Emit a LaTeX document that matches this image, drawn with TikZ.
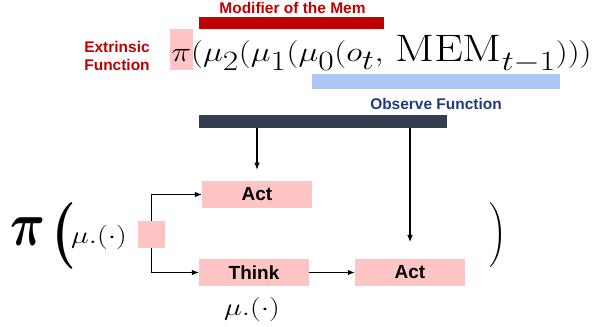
\documentclass[tikz,border=0pt]{standalone}
\usepackage{amsmath,amssymb}
\usepackage{graphicx}
\usepackage{fontspec}
\setsansfont{Liberation Sans}
\usepackage{tikz}
\usetikzlibrary{arrows.meta,positioning,calc}
\definecolor{pinkbox}{HTML}{FFC4C4}
\definecolor{red2}{HTML}{C00000}
\definecolor{slate}{HTML}{333F50}
\definecolor{skyblue}{HTML}{ADC8F6}
\definecolor{navy2}{HTML}{1F3A78}

\begin{document}
\begin{tikzpicture}[
          x=0.025cm, y=-0.025cm,
          lbl/.style={font=\fontsize{11}{12.8}\selectfont\sffamily\bfseries},
          bar/.style={inner sep=0pt,outer sep=0pt,minimum height=0.325cm},
          box/.style={fill=pinkbox,inner sep=0pt,outer sep=0pt,
                      minimum width=2.75cm,minimum height=0.675cm,
                      font=\fontsize{13.5}{16}\selectfont\sffamily\bfseries},
          arr/.style={-{Latex[length=1.8mm,width=1.4mm]},line width=0.8pt},
          musym/.style={font=\fontsize{17.8}{20}\selectfont,inner sep=0pt},
      ]
        \useasboundingbox (0,0) rectangle (598,327);

        \node[bar,fill=red2,minimum width=4.625cm,minimum height=0.3cm] (modbar) at (291.5,23) {};
        \node[bar,fill=skyblue,minimum width=6.2cm,minimum height=0.375cm] (obsbar) at (436,81.5) {};
        \node[bar,fill=slate,minimum width=6.2cm] (darkbar) at (323,121.5) {};
        \node[bar,fill=pinkbox,minimum width=0.575cm,minimum height=1.025cm] (pihl) at (181.5,49.5) {};

        \node[anchor=base west,inner sep=0pt] (formula) at (171,62)
          {\fontsize{34}{38}\selectfont\scalebox{0.96}[0.8]{$\pi(\mu_2(\mu_1(\mu_0(o_t,\,\mathrm{MEM}_{t-1})))$}};

        \node[lbl,text=red2] (modlbl) at (292.5,7.5) {Modifier of the Mem};
        \node[lbl,text=red2,align=center] (extlbl) at (117,56) {Extrinsic\\Function};
        \node[lbl,text=navy2] (obslbl) at (436,104) {Observe Function};

        \node[box] (act1) at (257,194.5) {Act};
        \node[box] (think) at (254,272.5) {Think};
        \node[box] (act2) at (410,272.5) {Act};
        \node[box,minimum width=0.675cm] (hub) at (151.5,234.5) {};

        \node[inner sep=0pt] (bigpi) at (28,231.5) {\scalebox{3.45}[4.45]{$\boldsymbol{\pi}$}};
        \node[inner sep=0pt] (lparen) at (63.5,235.5)
          {\fontsize{45}{48}\selectfont\bfseries\scalebox{0.9}[1.05]{(}};
        \node[musym] (muin) at (99,237.5) {\scalebox{1.24}[1]{$\mu.(\cdot)$}};
        \node[musym] (muthink) at (252,309.5) {\scalebox{1.24}[1]{$\mu.(\cdot)$}};
        \node[inner sep=0pt] (rparen) at (498,235.5) {\fontsize{15.4}{18}\selectfont$\Bigg)$};

        \draw[arr,shorten >=0.28cm] (darkbar.south -| act1.north) -- (act1.north);
        \draw[arr,shorten >=0.42cm] (darkbar.south -| act2.north) -- (act2.north);
        \draw[arr] (hub.north) |- (act1.west);
        \draw[arr] (hub.south) |- (think.west);
        \draw[arr,line width=1.2pt] (think) -- (act2);
      \end{tikzpicture}
\end{document}
